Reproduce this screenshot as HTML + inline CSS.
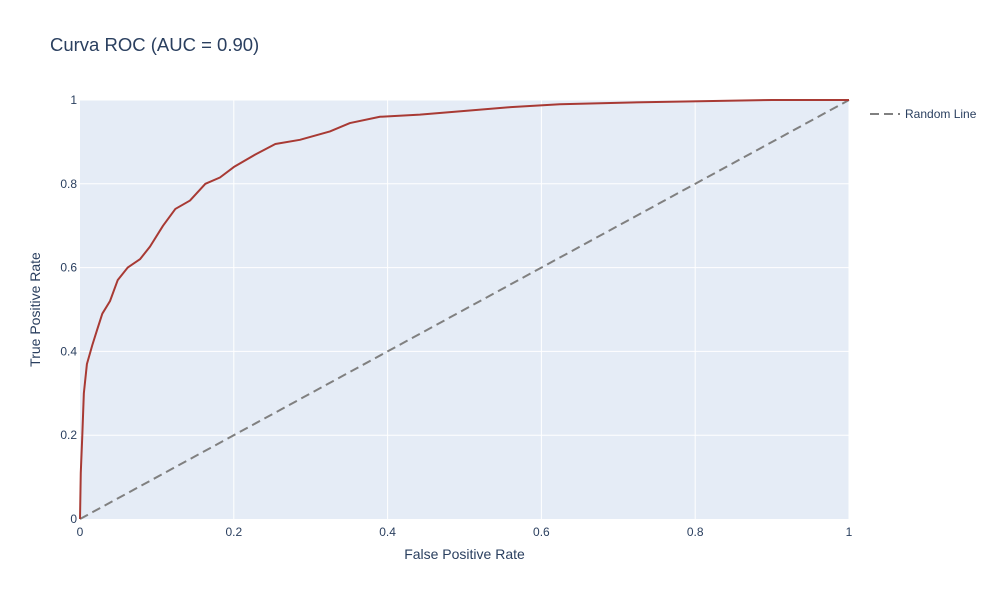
<!DOCTYPE html>
<html><head><meta charset="utf-8">
<style>
body{margin:0;background:#fff;font-family:"Liberation Sans",Arial,sans-serif;}
svg text{font-family:"Liberation Sans",Arial,sans-serif;fill:#2a3f5f;}
</style></head>
<body>
<svg id="chart" width="1000" height="600">
  <rect x="0" y="0" width="1000" height="600" fill="#fff"/>
  <text x="50" y="51" font-size="18.5">Curva ROC (AUC = 0.90)</text>
  <rect x="80" y="100" width="769" height="419" fill="#e5ecf6"/>
  <g id="grid"></g>
  <g id="series"></g>
  <g id="ticks"></g>
  <text x="464.5" y="559" font-size="14" text-anchor="middle">False Positive Rate</text>
  <text transform="translate(40,309.5) rotate(-90)" font-size="14" text-anchor="middle">True Positive Rate</text>
  <g>
    <line x1="870" y1="114" x2="900" y2="114" stroke="#808080" stroke-width="2" stroke-dasharray="9,5"/>
    <text x="905" y="118" font-size="12">Random Line</text>
  </g>
</svg>
<script>
const fpr = [0,0.001,0.003,0.005,0.009,0.016,0.022,0.029,0.039,0.049,0.062,0.078,0.091,0.108,0.124,0.143,0.163,0.182,0.2,0.228,0.254,0.286,0.325,0.351,0.39,0.442,0.507,0.56,0.624,0.74,0.9,1];
const tpr = [0,0.11,0.2,0.3,0.37,0.415,0.45,0.49,0.52,0.57,0.6,0.62,0.65,0.7,0.74,0.76,0.8,0.815,0.84,0.87,0.895,0.905,0.925,0.945,0.96,0.965,0.975,0.983,0.99,0.995,1,1];
const randX = [0,1];
const randY = [0,1];
const tickVals = [0,0.2,0.4,0.6,0.8,1];
const tickLabels = ["0","0.2","0.4","0.6","0.8","1"];
const X0=80,X1=849,Y0=519,Y1=100;
const sx=v=>X0+v*(X1-X0), sy=v=>Y0-v*(Y0-Y1);
const NS="http://www.w3.org/2000/svg";
const grid=document.getElementById('grid'), ticks=document.getElementById('ticks'), series=document.getElementById('series');
tickVals.forEach((v,i)=>{
  if(v>0){
    const gx=document.createElementNS(NS,'line');
    gx.setAttribute('x1',sx(v));gx.setAttribute('x2',sx(v));gx.setAttribute('y1',Y1);gx.setAttribute('y2',Y0);
    gx.setAttribute('stroke','#fff');gx.setAttribute('stroke-width','1');
    
    
    grid.appendChild(gx);
    const gy=document.createElementNS(NS,'line');
    gy.setAttribute('y1',sy(v));gy.setAttribute('y2',sy(v));gy.setAttribute('x1',X0);gy.setAttribute('x2',X1);
    gy.setAttribute('stroke','#fff');gy.setAttribute('stroke-width','1');
    
    
    grid.appendChild(gy);
  }
  const tx=document.createElementNS(NS,'text');
  tx.setAttribute('x',sx(v));tx.setAttribute('y',536);tx.setAttribute('font-size','12');tx.setAttribute('text-anchor','middle');
  tx.textContent=tickLabels[i];
  
  
  ticks.appendChild(tx);
  const ty=document.createElementNS(NS,'text');
  ty.setAttribute('x',77);ty.setAttribute('y',sy(v)+4);ty.setAttribute('font-size','12');ty.setAttribute('text-anchor','end');
  ty.textContent=tickLabels[i];
  
  
  ticks.appendChild(ty);
});
const rl=document.createElementNS(NS,'line');
rl.setAttribute('x1',sx(randX[0]));rl.setAttribute('y1',sy(randY[0]));rl.setAttribute('x2',sx(randX[1]));rl.setAttribute('y2',sy(randY[1]));
rl.setAttribute('stroke','#808080');rl.setAttribute('stroke-width','2');rl.setAttribute('stroke-dasharray','9,5');


series.appendChild(rl);
let d='M'+sx(fpr[0])+','+sy(tpr[0]);
for(let i=1;i<fpr.length;i++){d+=' L'+sx(fpr[i])+','+sy(tpr[i]);}
const roc=document.createElementNS(NS,'path');
roc.setAttribute('d',d);roc.setAttribute('fill','none');roc.setAttribute('stroke','#a83a34');roc.setAttribute('stroke-width','2');roc.setAttribute('stroke-linejoin','round');


series.appendChild(roc);
</script>
</body></html>
